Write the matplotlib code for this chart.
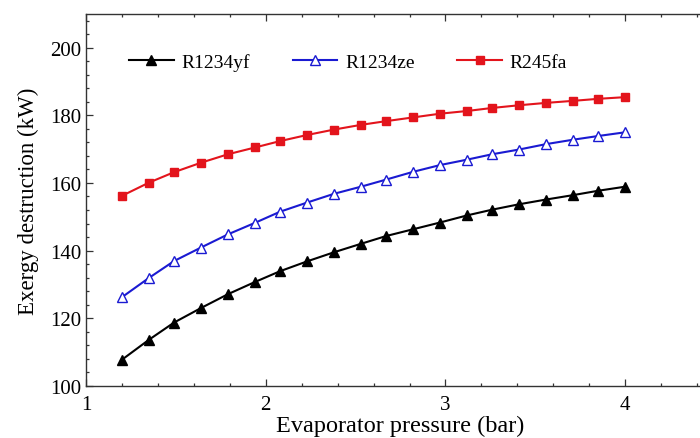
import matplotlib
matplotlib.use("Agg")
import matplotlib.pyplot as plt
from matplotlib.ticker import MultipleLocator

plt.rcParams["font.family"] = ["Liberation Serif", "DejaVu Serif"]

# Evaporator pressure (bar)
pressure = [1.20, 1.35, 1.49, 1.64, 1.79, 1.94, 2.08, 2.23, 2.38, 2.53,
            2.67, 2.82, 2.97, 3.12, 3.26, 3.41, 3.56, 3.71, 3.85, 4.00]

# Exergy destruction (kW) for each working fluid
r1234yf = [107.7, 113.6, 118.7, 123.0, 127.1, 130.7, 133.9, 136.8, 139.5, 142.0,
           144.3, 146.3, 148.3, 150.4, 152.1, 153.7, 155.1, 156.4, 157.7, 158.9]
r1234ze = [126.2, 131.9, 136.9, 140.9, 144.8, 148.2, 151.5, 154.2, 156.8, 158.9,
           161.0, 163.3, 165.3, 166.9, 168.5, 169.9, 171.5, 172.8, 173.9, 175.0]
r245fa = [156.2, 160.1, 163.2, 166.0, 168.5, 170.5, 172.4, 174.2, 175.8, 177.2,
          178.3, 179.4, 180.5, 181.3, 182.2, 183.0, 183.7, 184.3, 184.9, 185.4]

x_ticks = [1, 2, 3, 4]
y_ticks = [100, 120, 140, 160, 180, 200]

fig = plt.figure(figsize=(7.0, 4.39), dpi=100)
# The plotting area runs past the right edge of the canvas
ax = fig.add_axes([0.1229, 0.1191, 0.8986, 0.8467])

ax.plot(pressure, r1234yf, color="black", lw=1.5, marker="^", ms=6.5,
        mfc="black", mec="black", label="R1234yf")
ax.plot(pressure, r1234ze, color="#1a1ad2", lw=1.5, marker="^", ms=6.5,
        mfc="white", mec="#1a1ad2", mew=1.0, label="R1234ze")
ax.plot(pressure, r245fa, color="#e3141c", lw=1.5, marker="s", ms=6,
        mfc="#e3141c", mec="#e3141c", label="R245fa")

ax.set_xlim(1, 4.5)
ax.set_ylim(100, 210)
ax.set_xticks(x_ticks)
ax.set_yticks(y_ticks)
ax.xaxis.set_minor_locator(MultipleLocator(0.2))
ax.yaxis.set_minor_locator(MultipleLocator(4))

ax.tick_params(which="both", direction="in", top=True, right=True,
               color="#333333", width=0.9)
ax.tick_params(which="major", length=5, labelsize=15)
ax.tick_params(which="minor", length=2.5)
ax.tick_params(axis="x", which="major", pad=7)
ax.tick_params(axis="y", which="major", pad=3.5)

for side in ax.spines.values():
    side.set_color("#333333")
    side.set_linewidth(1.0)

ax.set_xlabel("Evaporator pressure (bar)", fontsize=17.5, labelpad=0)
ax.set_ylabel("Exergy destruction (kW)", fontsize=16.5, labelpad=8)

ax.legend(loc="center left", bbox_to_anchor=(0.068, 0.871), ncol=3,
          frameon=False, fontsize=14, handlelength=2.3, handletextpad=0.4,
          columnspacing=2.2, borderpad=0, borderaxespad=0)

fig.savefig("out.png", dpi=100)
